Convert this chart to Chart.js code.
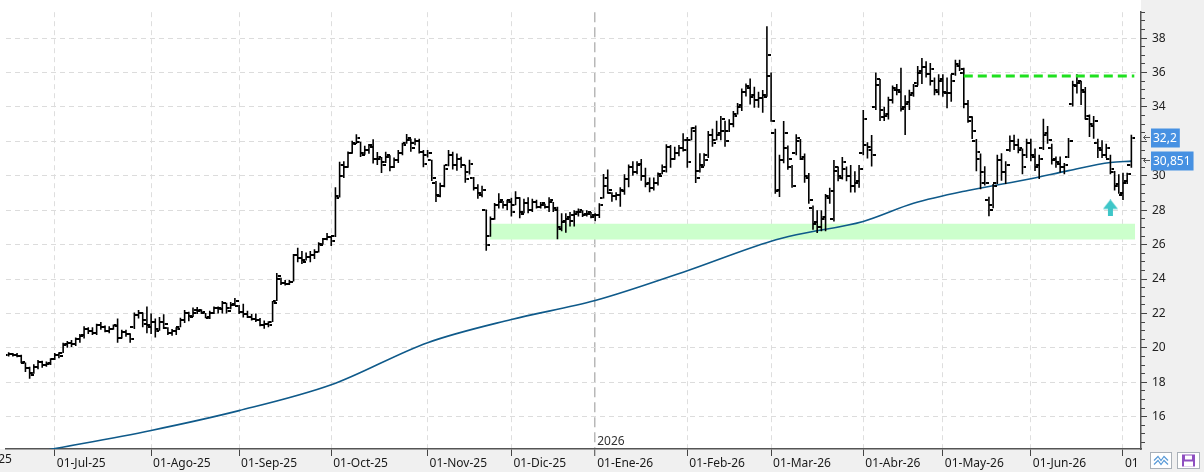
<!DOCTYPE html>
<html>
<head>
<meta charset="utf-8">
<script src="https://cdn.jsdelivr.net/npm/chart.js@4.4.1/dist/chart.umd.min.js"></script>
<style>
html,body{margin:0;padding:0;background:#fff}
#wrap{width:1204px;height:472px}
</style>
</head>
<body>
<div id="wrap"><canvas id="grafico" width="1204" height="472"></canvas></div>
<script>
// barre giornaliere (indice 0 = meta giugno 2025)
const opens = [
	19.6,19.65,19.6,19.5,19.1,18.8,18.55,18.9,19.2,19.0,
	19.05,19.35,19.6,19.7,20.15,20.3,20.25,20.5,20.7,21.1,
	21.0,20.85,21.3,21.2,21.0,21.1,21.3,20.6,20.9,20.8,
	21.2,21.9,22.0,21.6,21.3,21.5,21.1,21.5,21.15,20.85,
	21.0,21.2,21.6,22.0,21.85,22.0,22.15,22.0,21.75,22.0,
	22.3,22.3,22.6,22.3,22.5,22.45,22.1,21.95,21.8,21.7,
	21.6,21.35,21.4,21.5,22.75,24.0,23.75,23.7,23.85,25.4,
	25.2,25.1,25.3,25.4,25.6,26.05,26.3,26.45,26.5,28.8,
	30.0,30.5,31.3,31.9,31.95,31.3,31.5,31.8,31.0,31.0,
	30.8,31.1,30.5,30.9,31.3,31.9,32.1,31.9,32.0,31.4,
	31.2,30.9,29.6,28.9,29.4,30.6,31.2,30.6,31.0,30.6,
	30.2,29.9,29.3,29.0,28.0,26.5,27.5,28.3,28.5,28.3,
	28.6,28.3,28.7,27.9,28.4,28.0,28.5,28.2,28.3,28.2,
	28.45,28.1,27.0,27.3,27.5,27.4,27.8,27.9,27.7,27.8,
	27.6,27.7,28.7,29.4,29.0,28.8,28.9,29.2,29.8,30.5,
	30.2,30.6,30.0,29.5,29.3,29.6,30.1,30.3,31.7,31.0,
	31.3,31.6,31.5,32.1,32.8,30.3,30.6,31.2,32.4,32.1,
	32.4,32.6,32.6,33.0,33.6,34.0,34.9,35.2,34.6,34.4,
	34.5,34.7,35.8,32.5,29.1,30.9,31.6,30.5,31.3,32.0,
	31.0,30.0,28.1,27.2,27.0,27.5,28.8,27.5,30.3,30.0,
	30.4,30.0,29.4,29.6,31.3,31.8,31.7,34.0,35.3,33.8,
	33.5,34.4,35.1,35.0,33.9,34.2,34.7,35.4,36.0,36.3,
	35.9,35.5,35.0,35.5,34.9,34.8,35.9,36.5,36.0,34.2,
	33.2,32.0,31.0,30.2,28.6,28.3,29.6,30.9,30.2,31.5,
	32.0,31.8,31.5,31.2,31.9,31.2,30.5,31.6,32.4,31.6,
	30.9,30.8,30.5,31.1,34.2,35.3,35.4,35.0,33.3,33.0,
	31.9,31.6,31.2,31.0,30.2,29.4,28.9,29.6,30.6
];
const highs = [
	19.75,19.7,19.7,19.6,19.15,18.9,19.05,19.3,19.25,19.2,
	19.4,19.7,19.75,20.3,20.4,20.45,20.6,20.8,21.25,21.2,
	21.2,21.4,21.5,21.3,21.25,21.35,21.7,21.05,21.05,20.85,
	22.05,22.2,22.05,22.4,22.0,21.7,21.8,21.95,21.2,21.1,
	21.2,21.75,22.2,22.1,22.35,22.38,22.25,22.02,22.15,22.4,
	22.4,22.72,22.62,22.66,22.9,22.49,22.56,22.15,21.96,22.0,
	21.74,21.59,21.55,22.72,24.35,24.07,23.94,23.94,25.45,25.82,
	25.63,25.54,25.63,25.73,26.14,26.39,26.67,26.48,29.34,30.81,
	30.85,31.42,32.04,32.41,31.98,31.75,31.85,32.13,31.38,31.1,
	31.4,31.2,31.06,31.5,31.92,32.43,32.15,32.19,32.15,31.5,
	31.5,30.93,29.7,29.6,30.64,31.5,31.4,31.3,31.11,30.64,
	30.93,29.93,29.51,29.42,28.04,27.63,28.42,28.99,28.53,28.61,
	28.72,29.1,28.76,28.67,28.76,28.67,28.61,28.48,28.38,28.76,
	28.48,28.2,27.82,27.82,27.9,28.0,28.1,28.0,28.0,27.9,
	27.83,28.4,30.1,30.37,29.05,29.05,29.34,30.09,30.66,30.85,
	30.85,30.98,30.47,29.9,29.9,30.19,30.66,31.84,31.79,31.69,
	31.79,32.48,32.26,32.82,32.92,31.31,31.31,32.6,32.73,33.2,
	33.48,33.2,33.29,33.76,34.23,35.08,35.36,35.65,35.18,34.89,
	34.99,38.7,36.0,32.73,31.22,33.18,31.76,30.63,32.42,32.14,
	31.29,30.16,28.28,28.0,28.0,28.94,29.31,30.92,30.54,31.1,
	30.54,30.63,30.26,30.63,33.83,31.95,32.37,36.0,35.62,34.02,
	34.59,35.25,35.34,36.28,34.68,35.0,35.34,36.38,36.85,36.66,
	36.56,35.72,35.91,35.91,35.72,35.91,36.75,36.75,36.28,34.4,
	33.46,32.14,31.29,30.56,28.78,29.53,31.22,31.31,30.84,32.34,
	32.38,32.15,31.59,32.15,32.15,31.59,31.22,33.32,32.9,31.87,
	31.12,31.12,30.75,32.2,35.53,35.9,35.53,35.16,33.56,33.47,
	32.15,32.06,31.87,31.22,30.28,30.09,30.18,30.18,32.38
];
const lows = [
	19.5,19.5,19.45,19.1,18.6,18.2,18.5,18.75,18.85,18.9,
	19.0,19.3,19.4,19.7,20.0,20.05,20.1,20.3,20.55,20.8,
	20.75,20.75,21.05,20.9,20.85,21.05,20.3,20.55,20.65,20.3,
	21.1,21.7,21.2,20.85,20.8,20.6,21.0,21.1,20.75,20.7,
	20.75,21.2,21.45,21.55,21.8,21.96,21.96,21.72,21.68,21.96,
	22.0,22.0,22.0,22.24,22.43,21.96,21.77,21.74,21.59,21.5,
	21.25,21.11,21.2,21.5,22.72,23.66,23.62,23.66,23.85,24.98,
	24.88,25.07,24.98,25.16,25.54,26.01,26.26,25.92,26.44,28.74,
	29.87,30.47,31.28,31.85,31.1,31.23,31.28,30.72,30.63,30.16,
	30.74,30.27,30.46,30.74,31.2,31.87,31.4,31.77,31.3,30.5,
	31.06,29.7,28.48,28.76,29.33,30.55,30.36,30.3,30.46,29.6,
	30.08,29.14,28.67,28.76,25.65,26.46,27.44,28.1,28.1,28.0,
	27.63,28.29,27.54,27.82,27.82,27.9,28.1,28.1,28.1,27.9,
	27.9,26.31,26.78,26.69,27.06,27.06,27.63,27.6,27.63,27.54,
	27.36,27.55,28.68,28.96,28.49,28.58,28.2,28.9,29.34,30.0,
	30.09,29.71,29.34,29.05,29.15,29.43,30.09,30.19,30.47,30.94,
	31.13,31.41,30.47,32.07,29.58,30.19,30.56,31.03,31.69,32.07,
	32.07,31.69,32.54,32.82,33.57,33.76,34.61,34.14,33.95,33.95,
	33.67,34.6,33.14,28.96,28.77,30.73,30.35,29.31,31.2,30.92,
	29.6,28.37,26.87,26.68,26.77,26.77,28.37,27.34,29.69,29.79,
	29.69,29.03,29.03,29.31,31.2,31.01,30.54,33.83,33.18,33.18,
	33.27,34.21,34.68,33.74,32.37,33.83,34.59,35.25,35.34,35.72,
	35.25,34.68,34.68,34.59,33.93,34.3,35.81,36.09,33.93,33.08,
	32.14,30.26,29.22,29.43,27.65,28.12,29.53,29.71,29.53,31.4,
	31.5,31.31,30.09,31.03,30.84,30.28,29.81,31.5,31.87,30.65,
	30.47,30.18,30.09,31.03,34.03,34.78,34.12,33.28,32.25,32.15,
	31.03,31.03,31.03,30.09,29.15,28.96,28.59,29.53,30.47
];
const closes = [
	19.65,19.6,19.5,19.2,18.8,18.45,18.9,19.15,19.0,19.1,
	19.35,19.6,19.55,20.2,20.3,20.25,20.5,20.75,21.1,21.0,
	20.85,21.3,21.2,21.0,21.1,21.25,20.6,20.9,20.8,20.5,
	21.9,22.0,21.4,21.2,21.5,21.0,21.5,21.4,20.85,21.0,
	21.1,21.6,22.0,21.8,22.2,22.2,22.1,21.8,22.05,22.3,
	22.25,22.6,22.15,22.55,22.75,22.1,21.95,21.8,21.7,21.6,
	21.35,21.4,21.3,22.6,24.2,23.75,23.7,23.85,25.4,25.2,
	25.0,25.3,25.4,25.6,26.0,26.3,26.45,26.2,28.7,30.6,
	30.5,31.3,31.85,32.2,31.2,31.5,31.7,31.0,31.1,30.6,
	31.2,30.5,30.9,31.3,31.8,32.2,31.6,32.0,31.4,30.7,
	31.3,29.9,28.8,29.4,30.4,31.2,30.6,31.0,30.6,29.8,
	30.7,29.3,28.9,29.2,26.0,27.5,28.3,28.6,28.3,28.5,
	27.9,28.7,27.8,28.4,28.0,28.5,28.2,28.4,28.2,28.6,
	28.0,26.9,27.4,27.6,27.7,27.9,28.0,27.8,27.9,27.7,
	27.7,28.3,29.9,29.2,28.8,28.9,29.1,29.8,30.5,30.2,
	30.7,30.0,29.6,29.3,29.6,30.0,30.5,31.7,31.0,31.3,
	31.6,32.1,30.8,32.6,29.9,30.5,30.9,32.4,31.9,32.5,
	33.3,32.0,33.0,33.5,34.1,34.9,35.1,34.7,34.4,34.5,
	34.6,37.0,33.2,29.2,30.9,32.5,31.0,29.4,32.2,31.1,
	29.9,28.6,27.3,27.0,27.6,28.7,29.1,30.5,29.9,30.8,
	30.0,29.4,29.7,30.4,33.3,31.5,31.2,35.6,33.4,33.6,
	34.4,35.0,34.9,34.0,34.3,34.8,35.2,36.1,36.3,35.9,
	36.2,34.9,35.6,34.8,34.8,35.5,36.4,36.2,34.2,33.4,
	32.6,31.4,29.6,29.6,28.0,29.4,30.9,30.2,30.6,32.0,
	31.8,31.6,30.5,31.9,31.1,30.6,31.0,32.5,32.1,31.0,
	30.7,30.5,30.6,32.0,35.2,35.5,34.9,33.5,32.9,33.2,
	31.5,31.2,31.6,30.4,29.5,29.0,29.7,30.1,32.2
];

// media mobile (indice barra, valore)
const mediaIdx = [9, 34, 55, 77, 100, 120, 140, 161, 182, 188, 204, 216, 229, 244, 253, 263, 268];
const mediaVal = [14.05, 15.2, 16.35, 17.85, 20.3, 21.65, 22.75, 24.4, 26.2, 26.57, 27.35, 28.4, 29.15, 29.83, 30.3, 30.77, 30.851];

// primo giorno di ogni mese (indice barra) e etichette
const meseIdx = [11, 34, 55, 77, 100, 120, 140, 162, 182, 204, 223, 244, 266];
const meseLabel = ['01-Jul-25','01-Ago-25','01-Sep-25','01-Oct-25','01-Nov-25','01-Dic-25','01-Ene-26','01-Feb-26','01-Mar-26','01-Abr-26','01-May-26','01-Jun-26','01-Jul-26'];
const mesePrimaIdx = -11;
const mesePrimaLabel = '01-Jun-25';
const annoIdx = 140;
const annoLabel = '2026';

// zona di supporto, resistenza e freccia
const supporto = { da: 114.8, a: 268.9, basso: 26.3, alto: 27.22 };
const resistenza = { da: 228, a: 268.7, livello: 35.8 };
const freccia = { idx: 263, livello: 28.13 };
const mediaUltima = 30.851;

const X_MIN = -0.64, X_MAX = 270.3;
const Y_MIN = 14.12, Y_MAX = 39.51;

function creaTacca(lato){
	const c = document.createElement('canvas');
	c.width = 8; c.height = 2;
	const g = c.getContext('2d');
	g.fillStyle = '#000';
	if(lato === 'sx') g.fillRect(0, 0, 3, 2);
	else g.fillRect(5, 0, 3, 2);
	return c;
}
function creaFreccia(){
	const c = document.createElement('canvas');
	c.width = 15; c.height = 17;
	const g = c.getContext('2d');
	g.fillStyle = '#3ec6c8';
	g.beginPath();
	g.moveTo(7.5, 0); g.lineTo(15, 9.5); g.lineTo(0, 9.5); g.closePath();
	g.fill();
	g.fillRect(5, 9, 5, 8);
	return c;
}

const barre = opens.map((o, i) => ({ x: i, y: [lows[i], highs[i]] }));
const aperture = opens.map((o, i) => ({ x: i, y: o }));
const chiusure = closes.map((c, i) => ({ x: i, y: c }));
const media = mediaIdx.map((x, i) => ({ x: x, y: mediaVal[i] }));

const fmt = v => String(v).replace('.', ',');

const tickY = () => {
	const t = [];
	for(let v = 14.5; v <= 39.5; v += 0.5) t.push({ value: v });
	return t;
};

const sfondo = {
	id: 'sfondo',
	beforeDraw(chart){
		const { ctx, chartArea: a, width, height } = chart;
		ctx.save();
		ctx.fillStyle = '#ffffff';
		ctx.fillRect(0, 0, width, height);
		ctx.fillStyle = '#f0f0f0';
		ctx.fillRect(a.right, 0, width - a.right, height);
		ctx.fillRect(0, a.bottom, width, height - a.bottom);
		ctx.restore();
	}
};

const extra = {
	id: 'extra',
	afterDraw(chart){
		const { ctx, chartArea: a, width, height } = chart;
		const xs = chart.scales.x, ys = chart.scales.y;
		ctx.save();
		ctx.font = '12px "Noto Sans", sans-serif';
		ctx.textBaseline = 'alphabetic';
		ctx.fillStyle = '#333';
		ctx.textAlign = 'left';
		ctx.fillText(annoLabel, xs.getPixelForValue(annoIdx) + 2, a.bottom - 4);
		// etichetta del mese precedente (tagliata)
		ctx.fillStyle = '#1a1a1a';
		ctx.textBaseline = 'top';
		ctx.fillText(mesePrimaLabel, xs.getPixelForValue(mesePrimaIdx) - 4, a.bottom + 5);

		// copre l'etichetta finale sotto l'asse y
		ctx.fillStyle = '#f0f0f0';
		ctx.fillRect(a.right - 3, a.bottom + 1, width - a.right + 3, height - a.bottom - 1);

		// etichette valori a destra
		const etichette = [
			{ v: closes[closes.length - 1], t: fmt(closes[closes.length - 1]) },
			{ v: mediaUltima, t: fmt(mediaUltima) }
		];
		etichette.forEach(e => {
			const y = Math.round(ys.getPixelForValue(e.v));
			const w = ctx.measureText(e.t).width + 5;
			ctx.fillStyle = '#4791e2';
			ctx.fillRect(a.right + 10, y - 9.5, w, 19);
			ctx.fillStyle = '#fff';
			ctx.textBaseline = 'middle';
			ctx.fillText(e.t, a.right + 12, y + 1);
			ctx.strokeStyle = '#555';
			ctx.lineWidth = 1;
			ctx.beginPath();
			ctx.moveTo(a.right + 2.5, y - 0.5); ctx.lineTo(a.right + 9, y - 0.5);
			ctx.moveTo(a.right + 5, y - 3); ctx.lineTo(a.right + 2.5, y - 0.5); ctx.lineTo(a.right + 5, y + 2);
			ctx.stroke();
		});

		// icone in basso a destra
		const by = a.bottom + 3.5;
		ctx.fillStyle = '#fff';
		ctx.strokeStyle = '#a9b0b8';
		ctx.fillRect(1150.5, by, 21, 16); ctx.strokeRect(1150.5, by, 21, 16);
		ctx.fillRect(1177.5, by, 22, 16); ctx.strokeRect(1177.5, by, 22, 16);
		ctx.strokeStyle = '#5a9bd8';
		ctx.lineWidth = 1.2;
		ctx.beginPath();
		ctx.moveTo(1154, by + 8); ctx.lineTo(1158, by + 4); ctx.lineTo(1161, by + 8); ctx.lineTo(1164, by + 4); ctx.lineTo(1168, by + 8);
		ctx.moveTo(1154, by + 12); ctx.lineTo(1158, by + 8); ctx.lineTo(1161, by + 12); ctx.lineTo(1164, by + 8); ctx.lineTo(1168, by + 12);
		ctx.stroke();
		ctx.fillStyle = '#8e4fc0';
		ctx.fillRect(1182, by + 2, 13, 12);
		ctx.fillStyle = '#fff';
		ctx.fillRect(1185, by + 3, 7, 4);
		ctx.fillRect(1184, by + 9, 9, 5);
		ctx.restore();
	}
};

const data = {
	datasets: [
		{
			type: 'line', label: 'supporto alto',
			data: [{ x: supporto.da, y: supporto.alto }, { x: supporto.a, y: supporto.alto }],
			borderWidth: 0, pointRadius: 0, fill: '+1',
			backgroundColor: '#ccffcc', order: 10
		},
		{
			type: 'line', label: 'supporto basso',
			data: [{ x: supporto.da, y: supporto.basso }, { x: supporto.a, y: supporto.basso }],
			borderWidth: 0, pointRadius: 0, fill: false, order: 10
		},
		{
			type: 'line', label: 'media',
			data: media,
			borderColor: '#0f5a8a', borderWidth: 1.6, pointRadius: 0,
			cubicInterpolationMode: 'monotone', fill: false, order: 5
		},
		{
			type: 'bar', label: 'max-min',
			data: barre,
			backgroundColor: '#000', barThickness: 1.6, borderWidth: 0, inflateAmount: 0, order: 2
		},
		{
			type: 'line', label: 'apertura',
			data: aperture, showLine: false,
			pointStyle: creaTacca('sx'), pointRadius: 3, order: 1
		},
		{
			type: 'line', label: 'chiusura',
			data: chiusure, showLine: false,
			pointStyle: creaTacca('dx'), pointRadius: 3, order: 1
		},
		{
			type: 'line', label: 'resistenza',
			data: [{ x: resistenza.da, y: resistenza.livello }, { x: resistenza.a, y: resistenza.livello }],
			borderColor: '#1fe01f', borderWidth: 3, borderDash: [9, 5], pointRadius: 0, order: 0
		},
		{
			type: 'line', label: 'freccia',
			data: [{ x: freccia.idx, y: freccia.livello }], showLine: false,
			pointStyle: creaFreccia(), pointRadius: 5, order: 0
		}
	]
};

const config = {
	type: 'bar',
	data: data,
	plugins: [sfondo, extra],
	options: {
		responsive: false,
		animation: false,
		events: [],
		devicePixelRatio: 1,
		layout: { padding: 0 },
		plugins: { legend: { display: false }, tooltip: { enabled: false } },
		scales: {
			x: {
				type: 'linear', position: 'bottom', offset: false,
				min: X_MIN, max: X_MAX,
				afterBuildTicks: s => { s.ticks = meseIdx.map(v => ({ value: v })); },
				afterFit: s => { s.height = 23; },
				ticks: {
					autoSkip: false, maxRotation: 0, align: 'start', padding: 0, labelOffset: 2,
					color: '#1a1a1a', font: { size: 12, family: '"Noto Sans", sans-serif' },
					callback: (v, i) => meseLabel[i]
				},
				grid: {
					offset: false,
					color: c => (c.tick && c.tick.value === annoIdx) ? '#b8b8b8' : '#dedede',
					lineWidth: c => (c.tick && c.tick.value === annoIdx) ? 1.5 : 1,
					tickLength: 7, tickColor: '#444', tickWidth: 1, tickBorderDash: []
				},
				border: {
					color: '#555', width: 1.5,
					dash: c => c.type !== 'tick' ? [] : (c.tick.value === annoIdx ? [10, 5] : [5, 4])
				}
			},
			// tacche minori dell'asse dei prezzi
			yMin: {
				type: 'linear', position: 'right', weight: 0,
				min: Y_MIN, max: Y_MAX,
				afterBuildTicks: s => { s.ticks = tickY(); },
				afterFit: s => { s.width = 0; },
				ticks: { autoSkip: false, display: false },
				grid: {
					offset: false, drawOnChartArea: false,
					tickLength: 4, tickColor: '#444', tickWidth: 1, tickBorderDash: []
				},
				border: { display: false }
			},
			y: {
				type: 'linear', position: 'right', weight: 1,
				min: Y_MIN, max: Y_MAX,
				afterBuildTicks: s => { s.ticks = tickY().filter(t => t.value % 2 === 0); },
				afterFit: s => { s.width = 63; },
				ticks: {
					autoSkip: false, padding: 5,
					color: '#222', font: { size: 12, family: '"Noto Sans", sans-serif' },
					callback: v => String(v)
				},
				grid: {
					offset: false,
					color: '#dcdcdc',
					tickLength: 6, tickColor: '#444', tickWidth: 1, tickBorderDash: []
				},
				border: {
					color: '#555', width: 1.5,
					dash: c => c.type === 'tick' ? [5, 4] : []
				}
			}
		}
	}
};

new Chart(document.getElementById('grafico'), config);
</script>
</body>
</html>
